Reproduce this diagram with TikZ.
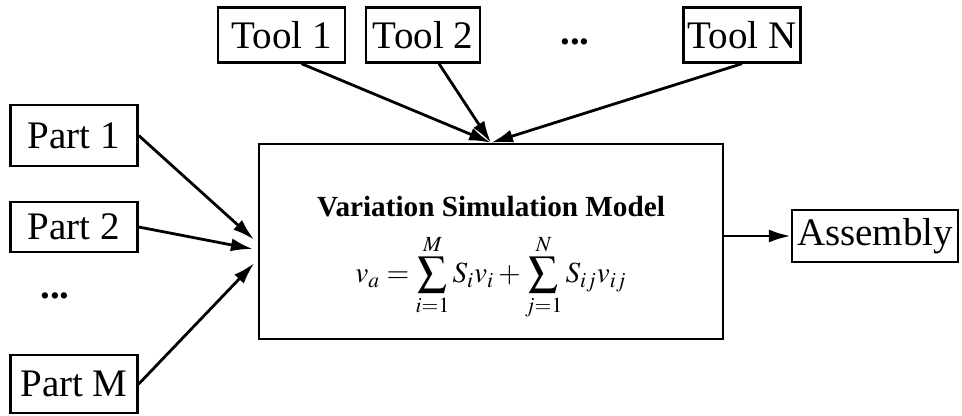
\documentclass[tikz,border=0pt]{standalone}
\usepackage{mathptmx}
\usepackage{fontspec}
\setmainfont{Liberation Serif}
\usetikzlibrary{arrows.meta,positioning}

\begin{document}
\begin{tikzpicture}[
  x=0.5pt, y=-0.5pt,
  blockbox/.style={draw=black, line width=1.2pt, inner sep=2pt,
                   minimum width=#1, minimum height=27.5pt,
                   font=\fontsize{19.5}{23}\selectfont},
  blockbox/.default=57pt,
  modelbox/.style={draw=black, line width=1.2pt, minimum width=232pt,
                   minimum height=97.5pt},
  modeltext/.style={align=center, inner sep=0pt,
                    font=\fontsize{14.6}{18}\selectfont},
  arr/.style={-{Latex[length=11pt,width=6.5pt]}, line width=1.4pt},
  dotlabel/.style={font=\fontsize{19.5}{23}\selectfont\bfseries},
]

\useasboundingbox (0,0) rectangle (962,416);

% ─── central model ─────────────────────────────────────────────
\node[modelbox] (model) at (491,241.5) {};
\node[modeltext] (modeleq) at (491,258)
  {{\bfseries Variation Simulation Model}\\[8pt]
   $\displaystyle v_a=\sum_{i=1}^{M}S_iv_i+\sum_{j=1}^{N}S_{ij}v_{ij}$};

% ─── tools (top row) ───────────────────────────────────────────
\node[blockbox=63.5pt] (tool1) at (281.5,35) {Tool 1};
\node[blockbox] (tool2) at (423,35) {Tool 2};
\node[dotlabel] (tooldots) at (575,42) {...};
\node[blockbox=57.5pt] (toolN) at (742,35) {Tool N};

% ─── parts (left column) ───────────────────────────────────────
\node[blockbox=63.5pt, minimum height=30.5pt] (part1) at (74,135.5) {Part 1};
\node[blockbox=63.5pt, minimum height=25pt] (part2) at (74,227) {Part 2};
\node[dotlabel] (partdots) at (55,296) {...};
\node[blockbox=63.5pt, minimum height=29pt] (partM) at (74,384) {Part M};

% ─── result ────────────────────────────────────────────────────
\node[blockbox=83pt, minimum height=26pt] (assembly) at (875,236) {Assembly};

% ─── connectors ────────────────────────────────────────────────
\foreach \src/\dy in {part1/-0.75, part2/-4.25, partM/-9}{
  \draw[arr, shorten >=2.5pt] (\src.east) -- ([yshift=\dy pt]model.west);
}
\foreach \src/\dx in {tool1/10, tool2/8, toolN/0}{
  \draw[arr] ([xshift=\dx pt]\src.south) -- (model.north);
}
\draw[arr] (model.east |- assembly.west) -- (assembly.west);

\end{tikzpicture}
\end{document}
